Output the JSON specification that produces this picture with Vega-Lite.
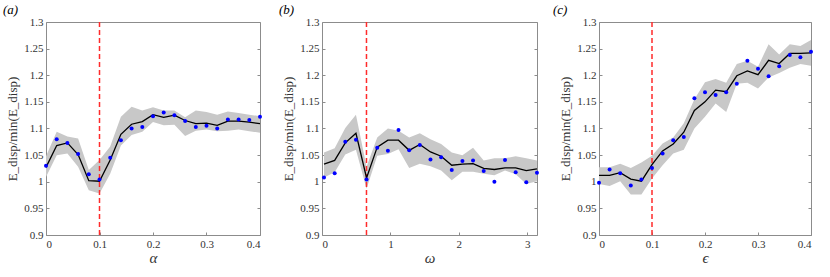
{
  "$schema": "https://vega.github.io/schema/vega-lite/v6.json",
  "padding": {"left": 2, "top": 3, "right": 5, "bottom": 5},
  "background": "white",
  "datasets": {
    "A": [
      {"x": 0.00, "m": 1.027, "lo": 1.009, "hi": 1.048, "d": 1.030},
      {"x": 0.02, "m": 1.068, "lo": 1.050, "hi": 1.094, "d": 1.080},
      {"x": 0.04, "m": 1.073, "lo": 1.053, "hi": 1.085, "d": 1.073},
      {"x": 0.06, "m": 1.051, "lo": 1.028, "hi": 1.081, "d": 1.052},
      {"x": 0.08, "m": 1.002, "lo": 0.984, "hi": 1.022, "d": 1.014},
      {"x": 0.10, "m": 1.001, "lo": 0.978, "hi": 1.041, "d": 1.004},
      {"x": 0.12, "m": 1.041, "lo": 1.015, "hi": 1.066, "d": 1.045},
      {"x": 0.14, "m": 1.089, "lo": 1.068, "hi": 1.122, "d": 1.078},
      {"x": 0.16, "m": 1.108, "lo": 1.088, "hi": 1.141, "d": 1.100},
      {"x": 0.18, "m": 1.113, "lo": 1.094, "hi": 1.134, "d": 1.103},
      {"x": 0.20, "m": 1.126, "lo": 1.112, "hi": 1.140, "d": 1.123},
      {"x": 0.22, "m": 1.121, "lo": 1.106, "hi": 1.134, "d": 1.130},
      {"x": 0.24, "m": 1.125, "lo": 1.107, "hi": 1.134, "d": 1.125},
      {"x": 0.26, "m": 1.115, "lo": 1.086, "hi": 1.121, "d": 1.114},
      {"x": 0.28, "m": 1.109, "lo": 1.096, "hi": 1.134, "d": 1.103},
      {"x": 0.30, "m": 1.110, "lo": 1.098, "hi": 1.131, "d": 1.105},
      {"x": 0.32, "m": 1.106, "lo": 1.095, "hi": 1.126, "d": 1.100},
      {"x": 0.34, "m": 1.114, "lo": 1.096, "hi": 1.132, "d": 1.117},
      {"x": 0.36, "m": 1.114, "lo": 1.098, "hi": 1.129, "d": 1.117},
      {"x": 0.38, "m": 1.112, "lo": 1.095, "hi": 1.126, "d": 1.116},
      {"x": 0.40, "m": 1.109, "lo": 1.092, "hi": 1.123, "d": 1.122}
    ],
    "B": [
      {"x": 0.029, "m": 1.033, "lo": 1.008, "hi": 1.055, "d": 1.008},
      {"x": 0.185, "m": 1.040, "lo": 1.018, "hi": 1.063, "d": 1.016},
      {"x": 0.340, "m": 1.073, "lo": 1.051, "hi": 1.101, "d": 1.075},
      {"x": 0.496, "m": 1.091, "lo": 1.060, "hi": 1.126, "d": 1.079},
      {"x": 0.651, "m": 1.007, "lo": 0.987, "hi": 1.028, "d": 1.004},
      {"x": 0.807, "m": 1.065, "lo": 1.049, "hi": 1.083, "d": 1.064},
      {"x": 0.963, "m": 1.078, "lo": 1.052, "hi": 1.100, "d": 1.058},
      {"x": 1.118, "m": 1.078, "lo": 1.061, "hi": 1.096, "d": 1.097},
      {"x": 1.274, "m": 1.059, "lo": 1.026, "hi": 1.083, "d": 1.059},
      {"x": 1.429, "m": 1.070, "lo": 1.034, "hi": 1.091, "d": 1.069},
      {"x": 1.585, "m": 1.056, "lo": 1.029, "hi": 1.080, "d": 1.042},
      {"x": 1.741, "m": 1.048, "lo": 1.021, "hi": 1.071, "d": 1.046},
      {"x": 1.896, "m": 1.031, "lo": 1.003, "hi": 1.055, "d": 1.022},
      {"x": 2.052, "m": 1.033, "lo": 1.019, "hi": 1.050, "d": 1.039},
      {"x": 2.207, "m": 1.034, "lo": 1.019, "hi": 1.064, "d": 1.040},
      {"x": 2.363, "m": 1.025, "lo": 1.015, "hi": 1.040, "d": 1.020},
      {"x": 2.519, "m": 1.023, "lo": 1.012, "hi": 1.044, "d": 1.000},
      {"x": 2.674, "m": 1.026, "lo": 1.021, "hi": 1.044, "d": 1.041},
      {"x": 2.830, "m": 1.026, "lo": 1.014, "hi": 1.048, "d": 1.018},
      {"x": 2.985, "m": 1.021, "lo": 0.996, "hi": 1.044, "d": 0.999},
      {"x": 3.141, "m": 1.024, "lo": 1.001, "hi": 1.040, "d": 1.017}
    ],
    "C": [
      {"x": 0.00, "m": 1.012, "lo": 0.996, "hi": 1.027, "d": 0.998},
      {"x": 0.02, "m": 1.012, "lo": 0.992, "hi": 1.027, "d": 1.023},
      {"x": 0.04, "m": 1.017, "lo": 1.001, "hi": 1.034, "d": 1.016},
      {"x": 0.06, "m": 1.005, "lo": 0.976, "hi": 1.026, "d": 0.993},
      {"x": 0.08, "m": 1.001, "lo": 0.976, "hi": 1.036, "d": 1.004},
      {"x": 0.10, "m": 1.032, "lo": 1.006, "hi": 1.049, "d": 1.026},
      {"x": 0.12, "m": 1.058, "lo": 1.031, "hi": 1.072, "d": 1.053},
      {"x": 0.14, "m": 1.071, "lo": 1.053, "hi": 1.083, "d": 1.078},
      {"x": 0.16, "m": 1.093, "lo": 1.060, "hi": 1.110, "d": 1.084},
      {"x": 0.18, "m": 1.134, "lo": 1.100, "hi": 1.155, "d": 1.157},
      {"x": 0.20, "m": 1.150, "lo": 1.122, "hi": 1.187, "d": 1.168},
      {"x": 0.22, "m": 1.172, "lo": 1.147, "hi": 1.193, "d": 1.163},
      {"x": 0.24, "m": 1.169, "lo": 1.131, "hi": 1.186, "d": 1.168},
      {"x": 0.26, "m": 1.199, "lo": 1.184, "hi": 1.221, "d": 1.184},
      {"x": 0.28, "m": 1.208, "lo": 1.186, "hi": 1.227, "d": 1.227},
      {"x": 0.30, "m": 1.201, "lo": 1.175, "hi": 1.216, "d": 1.212},
      {"x": 0.32, "m": 1.228, "lo": 1.196, "hi": 1.258, "d": 1.198},
      {"x": 0.34, "m": 1.222, "lo": 1.204, "hi": 1.239, "d": 1.217},
      {"x": 0.36, "m": 1.241, "lo": 1.214, "hi": 1.258, "d": 1.238},
      {"x": 0.38, "m": 1.241, "lo": 1.221, "hi": 1.255, "d": 1.234},
      {"x": 0.40, "m": 1.242, "lo": 1.218, "hi": 1.266, "d": 1.244}
    ],
    "RA": [{"x": 0.1}],
    "RB": [{"x": 0.65}],
    "RC": [{"x": 0.1}]
  },
  "hconcat": [
    {
      "width": 214, "height": 213,
      "title": {"text": "(a)", "dx": -43},
      "layer": [
        {"data": {"name": "A"}, "mark": {"type": "area", "color": "#c8c8c8", "opacity": 1},
         "encoding": {
           "x": {"field": "x", "type": "quantitative", "scale": {"domain": [0, 0.4], "nice": false}, "axis": {"values": [0, 0.1, 0.2, 0.3, 0.4], "title": "α"}},
           "y": {"field": "lo", "type": "quantitative", "scale": {"domain": [0.9, 1.3], "nice": false}, "axis": {"values": [0.9, 0.95, 1, 1.05, 1.1, 1.15, 1.2, 1.25, 1.3], "title": "E_disp/min(E_disp)"}},
           "y2": {"field": "hi"}}},
        {"data": {"name": "RA"}, "mark": {"type": "rule", "color": "#ff2b2b", "strokeDash": [5, 3], "strokeWidth": 1.5},
         "encoding": {"x": {"field": "x", "type": "quantitative"}}},
        {"data": {"name": "A"}, "mark": {"type": "line", "color": "black", "strokeWidth": 1.3},
         "encoding": {
           "x": {"field": "x", "type": "quantitative"},
           "y": {"field": "m", "type": "quantitative", "axis": {"orient": "right", "labels": false, "title": null, "values": [0.9, 0.95, 1, 1.05, 1.1, 1.15, 1.2, 1.25, 1.3]}}}},
        {"data": {"name": "A"}, "mark": {"type": "point", "shape": "circle", "filled": true, "color": "#0000ff", "opacity": 1, "size": 16},
         "encoding": {
           "x": {"field": "x", "type": "quantitative"},
           "y": {"field": "d", "type": "quantitative", "axis": null}}}
      ],
      "resolve": {"axis": {"y": "independent"}}
    },
    {
      "width": 215, "height": 213,
      "title": {"text": "(b)", "dx": -43},
      "layer": [
        {"data": {"name": "B"}, "mark": {"type": "area", "color": "#c8c8c8", "opacity": 1},
         "encoding": {
           "x": {"field": "x", "type": "quantitative", "scale": {"domain": [0, 3.14159], "nice": false}, "axis": {"values": [0, 0.5, 1, 1.5, 2, 2.5, 3], "title": "ω"}},
           "y": {"field": "lo", "type": "quantitative", "scale": {"domain": [0.9, 1.3], "nice": false}, "axis": {"values": [0.9, 0.95, 1, 1.05, 1.1, 1.15, 1.2, 1.25, 1.3], "title": "E_disp/min(E_disp)"}},
           "y2": {"field": "hi"}}},
        {"data": {"name": "RB"}, "mark": {"type": "rule", "color": "#ff2b2b", "strokeDash": [5, 3], "strokeWidth": 1.5},
         "encoding": {"x": {"field": "x", "type": "quantitative"}}},
        {"data": {"name": "B"}, "mark": {"type": "line", "color": "black", "strokeWidth": 1.3},
         "encoding": {
           "x": {"field": "x", "type": "quantitative"},
           "y": {"field": "m", "type": "quantitative", "axis": {"orient": "right", "labels": false, "title": null, "values": [0.9, 0.95, 1, 1.05, 1.1, 1.15, 1.2, 1.25, 1.3]}}}},
        {"data": {"name": "B"}, "mark": {"type": "point", "shape": "circle", "filled": true, "color": "#0000ff", "opacity": 1, "size": 16},
         "encoding": {
           "x": {"field": "x", "type": "quantitative"},
           "y": {"field": "d", "type": "quantitative", "axis": null}}}
      ],
      "resolve": {"axis": {"y": "independent"}}
    },
    {
      "width": 212, "height": 213,
      "title": {"text": "(c)", "dx": -46},
      "layer": [
        {"data": {"name": "C"}, "mark": {"type": "area", "color": "#c8c8c8", "opacity": 1},
         "encoding": {
           "x": {"field": "x", "type": "quantitative", "scale": {"domain": [0, 0.4], "nice": false}, "axis": {"values": [0, 0.1, 0.2, 0.3, 0.4], "title": "ϵ"}},
           "y": {"field": "lo", "type": "quantitative", "scale": {"domain": [0.9, 1.3], "nice": false}, "axis": {"values": [0.9, 0.95, 1, 1.05, 1.1, 1.15, 1.2, 1.25, 1.3], "title": "E_disp/min(E_disp)"}},
           "y2": {"field": "hi"}}},
        {"data": {"name": "RC"}, "mark": {"type": "rule", "color": "#ff2b2b", "strokeDash": [5, 3], "strokeWidth": 1.5},
         "encoding": {"x": {"field": "x", "type": "quantitative"}}},
        {"data": {"name": "C"}, "mark": {"type": "line", "color": "black", "strokeWidth": 1.3},
         "encoding": {
           "x": {"field": "x", "type": "quantitative"},
           "y": {"field": "m", "type": "quantitative", "axis": {"orient": "right", "labels": false, "title": null, "values": [0.9, 0.95, 1, 1.05, 1.1, 1.15, 1.2, 1.25, 1.3]}}}},
        {"data": {"name": "C"}, "mark": {"type": "point", "shape": "circle", "filled": true, "color": "#0000ff", "opacity": 1, "size": 16},
         "encoding": {
           "x": {"field": "x", "type": "quantitative"},
           "y": {"field": "d", "type": "quantitative", "axis": null}}}
      ],
      "resolve": {"axis": {"y": "independent"}}
    }
  ],
  "spacing": 62,
  "bounds": "flush",
  "config": {
    "font": "Times New Roman",
    "view": {"stroke": "#8c8c8c", "strokeWidth": 1},
    "axis": {
      "grid": false, "domain": false,
      "tickColor": "#8c8c8c", "tickSize": -3, "tickWidth": 1,
      "labelPadding": 6,
      "labelFont": "Times New Roman", "labelFontSize": 11, "labelColor": "#333333",
      "format": "~g",
      "titleFont": "Times New Roman", "titleFontWeight": "normal", "titleColor": "#333333", "titleFontSize": 13
    },
    "axisX": {"titleFontSize": 15, "titleFontStyle": "italic", "titlePadding": 1},
    "axisY": {"titlePadding": 4},
    "title": {"anchor": "start", "frame": "group", "font": "Times New Roman", "fontStyle": "italic", "fontWeight": "normal", "fontSize": 13, "color": "#000000", "offset": -1}
  }
}
